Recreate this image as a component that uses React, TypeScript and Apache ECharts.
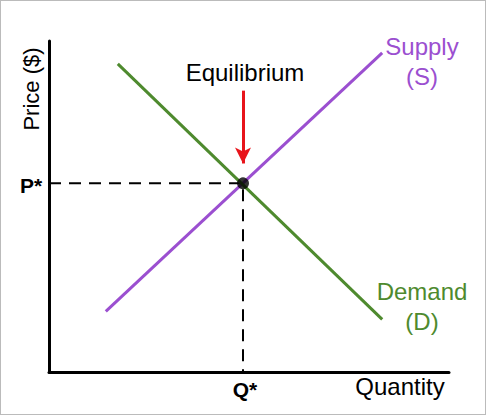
import React, { useEffect, useRef } from "react";
import * as echarts from "echarts";

const supply = [[14.2, 18.3], [83.3, 96.4]];
const demand = [[17.2, 93.1], [83.3, 15.9]];
const eq = [48.5, 57];
const arrow = [[48.5, 85], [48.5, 63]];

export default function App() {
  const ref = useRef<HTMLDivElement>(null);
  useEffect(() => {
    document.body.style.margin = "0";
    const c = echarts.init(ref.current!, null, { renderer: "svg" });
    const F = "Liberation Sans, Arial, sans-serif";
    const txt = (x: number, y: number, s: string, color = "#000", font = `24px ${F}`) => ({
      type: "text", x, y, style: { text: s, fill: color, font, align: "center", verticalAlign: "middle" },
    });
    c.setOption({
      animation: false,
      grid: { left: 48, top: 40, right: 36, bottom: 42 },
      xAxis: { type: "value", min: 0, max: 100, axisLine: { show: true, lineStyle: { color: "#000", width: 3 } }, axisTick: { show: false }, axisLabel: { show: false }, splitLine: { show: false } },
      yAxis: { type: "value", min: 0, max: 100, axisLine: { show: true, lineStyle: { color: "#000", width: 3 } }, axisTick: { show: false }, axisLabel: { show: false }, splitLine: { show: false } },
      series: [
        { type: "line", data: supply, symbol: "none", lineStyle: { color: "#9B4FD0", width: 3 } },
        { type: "line", data: demand, symbol: "none", lineStyle: { color: "#4E8A2E", width: 3 } },
        {
          type: "line", data: [[0, eq[1]], eq, [eq[0], 0]], symbol: "none", lineStyle: { color: "#000", width: 2, type: [12, 8] }, z: 1,
          markLine: {
            silent: true, symbol: ["none", "arrow"], symbolSize: [12, 16], label: { show: false },
            lineStyle: { color: "#E8141B", width: 3, type: "solid" },
            data: [[{ coord: arrow[0] }, { coord: arrow[1] }]],
          },
        },
        { type: "scatter", data: [eq], symbolSize: 12, itemStyle: { color: "#000" }, z: 5 },
      ],
      graphic: [
        { type: "text", x: 30, y: 88, rotation: Math.PI / 2, style: { text: "Price ($)", fill: "#000", font: `22px ${F}`, align: "center", verticalAlign: "middle" } },
        txt(30, 184, "P*", "#000", `bold 21px ${F}`),
        txt(244, 388, "Q*", "#000", `bold 21px ${F}`),
        txt(399, 385, "Quantity"),
        txt(244, 71, "Equilibrium"),
        txt(421, 45, "Supply", "#9B4FD0"),
        txt(421, 75, "(S)", "#9B4FD0"),
        txt(421, 290, "Demand", "#4E8A2E"),
        txt(421, 320, "(D)", "#4E8A2E"),
      ],
    });
    return () => c.dispose();
  }, []);
  return <div ref={ref} style={{ width: 486, height: 415, boxSizing: "border-box", border: "1px solid #bbb" }} />;
}
